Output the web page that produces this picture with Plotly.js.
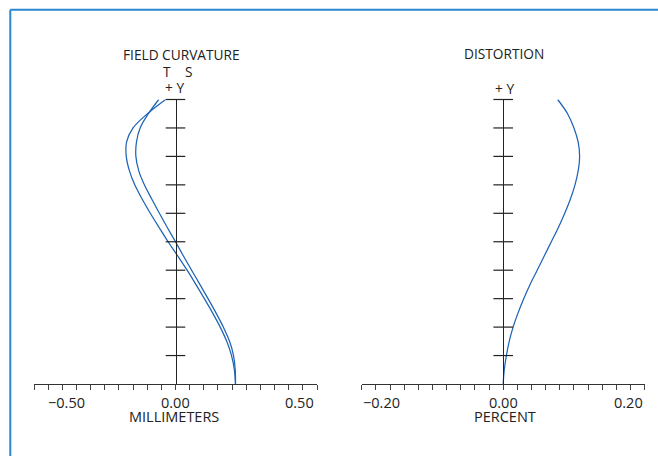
<!DOCTYPE html>
<html>
<head>
<meta charset="utf-8">
<script src="https://cdn.plot.ly/plotly-3.0.1.min.js"></script>
<style>
  html, body { margin: 0; padding: 0; background: #fff; }
  #chart { width: 658px; height: 456px; }
</style>
</head>
<body>
<div id="chart"></div>
<script>
// ---- data ----
// relative field height (0 = axis, 1 = full field +Y)
const fieldY = [0.00, 0.05, 0.10, 0.15, 0.20, 0.25, 0.30, 0.35, 0.40, 0.45, 0.50,
                0.55, 0.60, 0.65, 0.70, 0.75, 0.80, 0.85, 0.90, 0.95, 1.00];
// field curvature in millimeters
const tangential = [0.212, 0.208, 0.198, 0.181, 0.158, 0.131, 0.102, 0.072, 0.041, 0.008, -0.026,
                    -0.058, -0.089, -0.118, -0.144, -0.163, -0.174, -0.173, -0.150, -0.099, -0.035];
const sagittal   = [0.212, 0.211, 0.205, 0.191, 0.169, 0.143, 0.115, 0.086, 0.057, 0.028, 0.000,
                    -0.029, -0.057, -0.084, -0.110, -0.130, -0.140, -0.138, -0.125, -0.096, -0.059];
// distortion in percent
const distortion = [0.000, 0.0015, 0.0045, 0.0085, 0.014, 0.021, 0.029, 0.038, 0.048, 0.058, 0.068,
                    0.078, 0.087, 0.095, 0.1015, 0.106, 0.108, 0.106, 0.100, 0.091, 0.077];

// tick values / labels
const yTickVals = [0.1, 0.2, 0.3, 0.4, 0.5, 0.6, 0.7, 0.8, 0.9, 1.0];
const fcTickVals = [-0.5, 0, 0.5];
const fcTickText = ['\u22120.50', '0.00', '0.50'];
const dTickVals = [-0.2, 0, 0.2];
const dTickText = ['\u22120.20', '0.00', '0.20'];
const fcRange = [-0.5, 0.5];
const dRange = [-0.2, 0.2];

// ---- styling ----
const W = 658, H = 456;
const curveColor = '#1e64b4';
const axisColor = '#222';
const FONT = 'Open Sans, Noto Sans, sans-serif';
const px = v => v / W;          // x pixel -> paper
const py = v => (H - v) / H;    // y pixel -> paper

const yDomain = [py(384), py(99.5)];

const curveLine = { color: curveColor, width: 1.25, shape: 'spline', smoothing: 1 };
const traces = [
  { x: tangential, y: fieldY, xaxis: 'x', yaxis: 'y', type: 'scatter', mode: 'lines', name: 'T',
    line: curveLine, cliponaxis: false, hoverinfo: 'skip' },
  { x: sagittal, y: fieldY, xaxis: 'x', yaxis: 'y', type: 'scatter', mode: 'lines', name: 'S',
    line: curveLine, cliponaxis: false, hoverinfo: 'skip' },
  { x: distortion, y: fieldY, xaxis: 'x2', yaxis: 'y2', type: 'scatter', mode: 'lines', name: 'Distortion',
    line: curveLine, cliponaxis: false, hoverinfo: 'skip' },
  // cross ticks on the vertical (+Y) axes
  { x: yTickVals.map(() => 0), y: yTickVals, xaxis: 'x', yaxis: 'y', type: 'scatter', mode: 'markers',
    marker: { symbol: 'line-ew', size: 14, line: { width: 1.2, color: axisColor } }, cliponaxis: false, hoverinfo: 'skip' },
  { x: yTickVals.map(() => 0), y: yTickVals, xaxis: 'x2', yaxis: 'y2', type: 'scatter', mode: 'markers',
    marker: { symbol: 'line-ew', size: 14, line: { width: 1.2, color: axisColor } }, cliponaxis: false, hoverinfo: 'skip' }
];

function xAxis(domain, range, dtick, anchor) {
  return {
    domain: domain, range: range, anchor: anchor, dtick: dtick, tick0: 0,
    showgrid: false, zeroline: false, showline: true, linecolor: '#333', linewidth: 1.2,
    ticks: 'outside', ticklen: 5, tickwidth: 1, tickcolor: '#444',
    showticklabels: false, fixedrange: true
  };
}
function yAxis(position) {
  return {
    domain: yDomain, range: [0, 1], anchor: 'free', position: position,
    showgrid: false, zeroline: false, showline: true, linecolor: axisColor, linewidth: 1.2,
    ticks: '', showticklabels: false, fixedrange: true
  };
}

const txt = (text, x, y, size, extra) => Object.assign({
  text: text, x: x, y: y, xref: 'paper', yref: 'paper', showarrow: false,
  xanchor: 'center', yanchor: 'middle', font: { family: FONT, size: size || 14, color: '#222' }
}, extra || {});

const annotations = [
  txt('FIELD CURVATURE', px(181), py(54.7), 13.7),
  txt('T', px(166.7), py(71), 13.7),
  txt('S', px(189), py(71), 13.7),
  txt('+ Y', px(174.7), py(87.7), 13.7),
  txt('DISTORTION', px(503.8), py(53.3), 13.7),
  txt('+ Y', px(504.5), py(88), 13.7),
  txt('MILLIMETERS', px(174.2), py(416.7), 14.5),
  txt('PERCENT', px(505), py(416.7), 14.5)
];
const anchors = ['left', 'center', 'right'];
const fcShift = [12, 0, -1];
const dShift = [-1, 0, 0];
fcTickVals.forEach((v, i) => annotations.push(Object.assign(txt(fcTickText[i], v, py(402.5), 14.5),
  { xref: 'x', xanchor: anchors[i], xshift: fcShift[i] })));
dTickVals.forEach((v, i) => annotations.push(Object.assign(txt(dTickText[i], v, py(402.5), 14.5),
  { xref: 'x2', xanchor: anchors[i], xshift: dShift[i] })));

const borderColor = '#2a87d0';
const layout = {
  width: W, height: H, autosize: false,
  margin: { l: 0, r: 0, t: 0, b: 0, pad: 0 },
  paper_bgcolor: '#fff', plot_bgcolor: 'rgba(0,0,0,0)',
  showlegend: false,
  font: { family: FONT, size: 14, color: '#222' },
  xaxis: xAxis([px(34), px(317)], fcRange, 0.05, 'y'),
  yaxis: yAxis(px(175.5)),
  xaxis2: xAxis([px(361.7), px(644.7)], dRange, 0.02, 'y2'),
  yaxis2: yAxis(px(503.2)),
  annotations: annotations,
  shapes: [
    { type: 'line', xref: 'paper', yref: 'paper', x0: px(10.3), x1: 1, y0: py(9.7), y1: py(9.7),
      line: { color: borderColor, width: 2 } },
    { type: 'line', xref: 'paper', yref: 'paper', x0: px(10.3), x1: px(10.3), y0: 0, y1: py(9.7),
      line: { color: borderColor, width: 2 } }
  ]
};

Plotly.newPlot('chart', traces, layout, { staticPlot: true, displayModeBar: false });
</script>
</body>
</html>
